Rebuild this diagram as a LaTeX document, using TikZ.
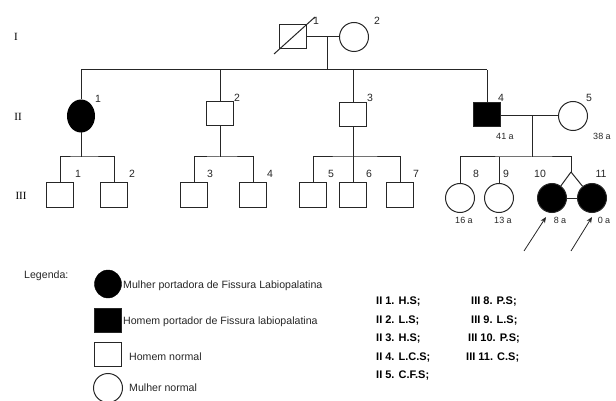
\documentclass[tikz,border=0pt]{standalone}
\usepackage{fontspec}
\setmainfont{Liberation Sans}
\newfontfamily\romanfam{Liberation Serif}
\usetikzlibrary{arrows.meta,shapes.geometric}
\begin{document}
\begin{tikzpicture}[x=1pt,y=-1pt,
  line/.style={draw=black!85,line width=1pt},
  male/.style={draw=black!85,line width=1pt,rectangle,minimum width=27pt,minimum height=24pt,inner sep=0pt,fill=white},
  female/.style={draw=black!85,line width=1pt,circle,minimum size=29pt,inner sep=0pt,fill=white},
  affected/.style={fill=black},
  num/.style={font=\fontsize{10.5}{10.5}\selectfont,inner sep=0pt,text=black!85},
  age/.style={font=\fontsize{9}{9}\selectfont,inner sep=0pt,text=black!85},
  gen/.style={font=\romanfam\fontsize{11}{11}\selectfont,inner sep=0pt},
  leg/.style={font=\fontsize{10.6}{10.6}\selectfont,inner sep=0pt,anchor=west,text=black!85},
  code/.style={font=\bfseries\fontsize{11}{11}\selectfont,inner sep=0pt,anchor=west},
  proband/.style={draw=black!85,line width=0.8pt,-{Stealth[length=6pt,width=5pt]}}]
\useasboundingbox (0,0) rectangle (616,401);

% generation labels
\node[gen] (gI) at (16,37) {I};
\node[gen] (gII) at (18,117) {II};
\node[gen] (gIII) at (21,196) {III};

% generation I
\node[male] (i1) at (293,37) {};
\draw[line] (274,54) -- (315,17);
\node[female] (i2) at (354,37) {};
\node[num] (li1) at (316,21) {1};
\node[num] (li2) at (377,21) {2};
\coordinate (m1) at (327,37);
\draw[line] (i1.east) -- (i2.west);
\coordinate (s1) at (327,70);
\draw[line] (m1) -- (s1);
\coordinate (s1a) at (81,70);
\coordinate (s1b) at (220,70);
\coordinate (s1c) at (353,70);
\coordinate (s1d) at (487,70);
\draw[line] (s1a) -- (s1d);

% generation II
\node[draw=black,line width=1pt,ellipse,fill=black,minimum width=27pt,minimum height=32pt,inner sep=0pt] (ii1) at (81,116) {};
\node[male] (ii2) at (220,114) {};
\node[male] (ii3) at (353,115) {};
\node[male,affected] (ii4) at (487,115) {};
\node[female] (ii5) at (573,116) {};
\draw[line] (s1a) -- (ii1.north);
\draw[line] (s1b) -- (ii2.north);
\draw[line] (s1c) -- (ii3.north);
\draw[line] (s1d) -- (ii4.north);
\node[num] (lii1) at (98,99) {1};
\node[num] (lii2) at (237,98) {2};
\node[num] (lii3) at (370,98) {3};
\node[num] (lii4) at (501,98) {4};
\node[num] (lii5) at (589,98) {5};
\node[age] (aii4) at (505,136) {41 a};
\node[age] (aii5) at (602,136) {38 a};
\coordinate (m2) at (532,116);
\draw[line] (ii4.east |- m2) -- (ii5.west);

% generation III
\node[male] (iii1) at (60,195) {};
\node[male] (iii2) at (114,195) {};
\node[male] (iii3) at (194,195) {};
\node[male] (iii4) at (253,195) {};
\node[male] (iii5) at (313,195) {};
\node[male] (iii6) at (353,195) {};
\node[male] (iii7) at (400,195) {};
\node[female] (iii8) at (460,198) {};
\node[female] (iii9) at (499,198) {};
\node[female,affected] (iii10) at (552,198) {};
\node[female,affected] (iii11) at (592,198) {};

% sibships
\coordinate (d1) at (81,157);
\draw[line] (ii1.south) -- (d1);
\draw[line] (iii1.north) |- (d1) -| (iii2.north);
\coordinate (d2) at (220,157);
\draw[line] (ii2.south) -- (d2);
\draw[line] (iii3.north) |- (d2) -| (iii4.north);
\coordinate (d3) at (353,157);
\draw[line] (ii3.south) -- (iii6.north);
\draw[line] (iii5.north) |- (d3) -| (iii7.north);
\coordinate (d4) at (532,157);
\coordinate (tw) at (571,172);
\draw[line] (m2) -- (d4);
\draw[line] (iii8.north) |- (d4) -| (tw);
\draw[line] (iii9.north) -- (iii9.north |- d4);
\draw[line] (tw) -- (iii10);
\draw[line] (tw) -- (iii11);
\draw[line] (iii10.east) -- (iii11.west);

\node[num] (liii1) at (78,174) {1};
\node[num] (liii2) at (132,174) {2};
\node[num] (liii3) at (210,174) {3};
\node[num] (liii4) at (270,174) {4};
\node[num] (liii5) at (331,174) {5};
\node[num] (liii6) at (369,174) {6};
\node[num] (liii7) at (416,174) {7};
\node[num] (liii8) at (476,174) {8};
\node[num] (liii9) at (506,174) {9};
\node[num] (liii10) at (540,174) {10};
\node[num] (liii11) at (601,174) {11};
\node[age] (aiii8) at (464,220) {16 a};
\node[age] (aiii9) at (503,220) {13 a};
\node[age] (aiii10) at (560,220) {8 a};
\node[age] (aiii11) at (604,220) {0 a};

% proband arrows
\coordinate (p1s) at (524,251);
\coordinate (p1e) at (546,217);
\coordinate (p2s) at (571,251);
\coordinate (p2e) at (592,217);
\draw[proband] (p1s) -- (p1e);
\draw[proband] (p2s) -- (p2e);

% legend
\node[leg] (legt) at (24,276) {Legenda:};
\node[draw=black,ellipse,fill=black,minimum width=27pt,minimum height=28pt,inner sep=0pt] (k1) at (108,284) {};
\node[leg] (k1t) at (123,286) {Mulher portadora de Fissura Labiopalatina};
\node[male,affected] (k2) at (108,320) {};
\node[leg] (k2t) at (123,322) {Homem portador de Fissura labiopalatina};
\node[male] (k3) at (108,354) {};
\node[leg] (k3t) at (129,357) {Homem normal};
\node[female] (k4) at (108,388) {};
\node[leg] (k4t) at (129,388) {Mulher normal};

% codes
\node[code] (c1) at (376,302) {II 1. H.S;};
\node[code] (c2) at (376,321) {II 2. L.S;};
\node[code] (c3) at (376,339) {II 3. H.S;};
\node[code] (c4) at (376,358) {II 4. L.C.S;};
\node[code] (c5) at (376,376) {II 5. C.F.S;};
\node[code] (c8) at (471,302) {III 8. P.S;};
\node[code] (c9) at (471,321) {III 9. L.S;};
\node[code] (c10) at (468,339) {III 10. P.S;};
\node[code] (c11) at (466,358) {III 11. C.S;};
\end{tikzpicture}
\end{document}
